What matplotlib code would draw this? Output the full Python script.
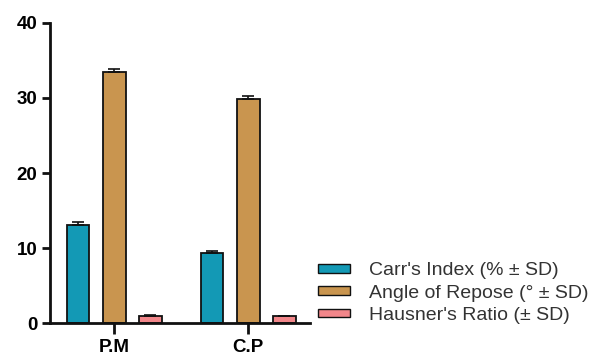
import matplotlib
matplotlib.use("Agg")
import matplotlib.pyplot as plt
import numpy as np
from matplotlib.patches import Patch

plt.rcParams['font.family'] = ['Liberation Sans', 'DejaVu Sans']

groups = ["P.M", "C.P"]
series = ["Carr's Index (% ± SD)", "Angle of Repose (° ± SD)", "Hausner's Ratio (± SD)"]
carr = [13.1, 9.3]
carr_sd = [0.4, 0.35]
angle = [33.4, 29.8]
angle_sd = [0.4, 0.4]
hausner = [0.95, 0.92]
hausner_sd = [0.1, 0.08]
colors = ["#1399b5", "#c9954f", "#f2868a"]

fig = plt.figure(figsize=(5.89, 3.62), dpi=100)
ax = fig.add_axes([0.085, 0.107, 0.441, 0.830])

x = np.arange(len(groups))
width = 0.169
offsets = [-0.27, 0.0, 0.27]
values = [carr, angle, hausner]
sds = [carr_sd, angle_sd, hausner_sd]
for off, v, s, c in zip(offsets, values, sds, colors):
    ax.bar(x + off, v, width, color=c, edgecolor="#111111", linewidth=1.3, zorder=2)
    ax.errorbar(x + off, v, yerr=[[0] * len(v), s], fmt="none", ecolor="#111111",
                elinewidth=1.2, capsize=4, capthick=1.2, zorder=3)

ax.set_xlim(-0.48, 1.46)
ax.set_ylim(0, 40)
ax.set_yticks([0, 10, 20, 30, 40])
ax.set_xticks(x)
ax.set_xticklabels(groups, fontsize=13.5, fontweight="bold")
for lbl in ax.get_yticklabels():
    lbl.set_fontsize(13.5)
    lbl.set_fontweight("bold")
ax.spines["top"].set_visible(False)
ax.spines["right"].set_visible(False)
for sp in ("left", "bottom"):
    ax.spines[sp].set_linewidth(2)
    ax.spines[sp].set_color("#111111")
ax.tick_params(axis="both", width=2, length=6, color="#111111", pad=3)
ax.tick_params(axis="x", length=8)

handles = [Patch(facecolor=c, edgecolor="#111111", linewidth=1.0) for c in colors]
fig.legend(handles, series, loc="upper left", bbox_to_anchor=(0.534, 0.286),
           frameon=False, fontsize=14, handlelength=1.6, handleheight=0.3,
           handletextpad=1.0, labelspacing=0.27, labelcolor="#333333",
           borderpad=0.2, borderaxespad=0.0)

fig.savefig("out.png", dpi=100)
